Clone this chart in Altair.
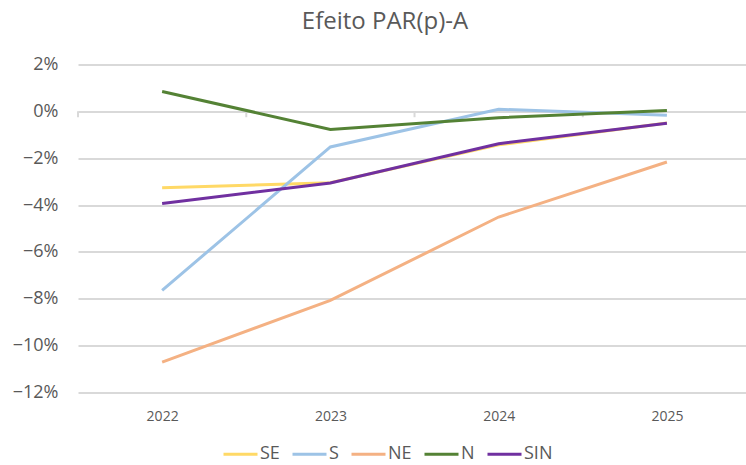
import altair as alt
import pandas as pd

years = [2022, 2023, 2024, 2025]
series = ["SE", "S", "NE", "N", "SIN"]
colors = ["#FFD966", "#9DC3E6", "#F4B183", "#548235", "#7030A0"]
se = [-0.0326, -0.0305, -0.0143, -0.0050]
s = [-0.0764, -0.0152, 0.0009, -0.0017]
ne = [-0.1070, -0.0807, -0.0451, -0.0216]
n = [0.0085, -0.0077, -0.0027, 0.0004]
sin = [-0.0393, -0.0306, -0.0138, -0.0051]
y_ticks = [0.02, 0.0, -0.02, -0.04, -0.06, -0.08, -0.10, -0.12]
cat_bounds = [2021.5, 2022.5, 2023.5, 2024.5]

values = {"SE": se, "S": s, "NE": ne, "N": n, "SIN": sin}
rows = []
for i, name in enumerate(series):
    for yr, v in zip(years, values[name]):
        rows.append({"Ano": yr, "Serie": name, "Valor": v, "ordem": i})
df = pd.DataFrame(rows)

FONT = "Open Sans"
GRAY = "#595959"

x_scale = alt.Scale(domain=[2021.5, 2025.47], nice=False, zero=False)

lines = alt.Chart(df).mark_line(strokeWidth=3).encode(
    x=alt.X("Ano:Q", scale=x_scale,
            axis=alt.Axis(title=None, values=years, format="d", labelAngle=0,
                          domain=False, ticks=False, grid=False, labelFontSize=14,
                          labelColor=GRAY, labelFont=FONT, labelPadding=17)),
    y=alt.Y("Valor:Q", scale=alt.Scale(domain=[-0.12, 0.02], nice=False, zero=False),
            axis=alt.Axis(title=None, format=".0%", values=y_ticks, domain=False,
                          ticks=False, grid=True, gridColor="#D9D9D9", gridWidth=2,
                          labelFontSize=18, labelColor=GRAY, labelFont=FONT,
                          labelPadding=20)),
    color=alt.Color("Serie:N", scale=alt.Scale(domain=series, range=colors),
                    sort=series,
                    legend=alt.Legend(title=None, orient="none", direction="horizontal",
                                      legendX=144, legendY=371, symbolType="stroke",
                                      symbolSize=1156, symbolStrokeWidth=3,
                                      labelFontSize=18, labelColor=GRAY, labelFont=FONT,
                                      labelOffset=1, columnPadding=6)),
    order=alt.Order("ordem:Q"),
    detail="Serie:N",
)

tick_df = pd.DataFrame({"Ano": cat_bounds})
ticks = alt.Chart(tick_df).mark_rule(color="#D9D9D9", strokeWidth=2).encode(
    x=alt.X("Ano:Q", scale=x_scale),
    y=alt.datum(0.0),
    y2=alt.datum(-0.0025),
)

chart = alt.layer(ticks, lines).properties(
    width=668,
    height=328,
    autosize=alt.AutoSizeParams(type="none"),
    padding={"left": 78, "top": 64.5, "right": 0, "bottom": 72.5},
    title=alt.TitleParams("Efeito PAR(p)-A", fontSize=24, font=FONT, color=GRAY,
                          fontWeight="normal", anchor="middle", dx=-27, offset=22),
).configure_view(stroke=None)

chart.save("out.html", embed_options={"renderer": "svg", "actions": False})
